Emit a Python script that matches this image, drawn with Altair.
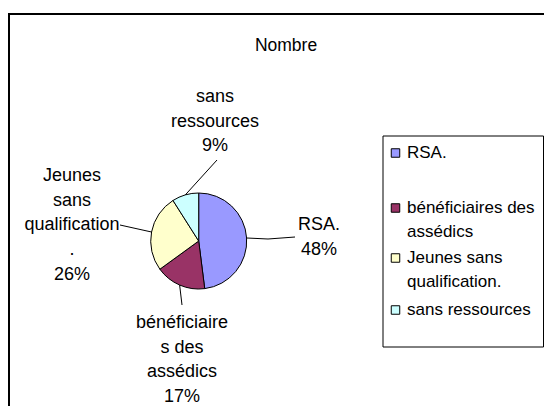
import math
import altair as alt
import pandas as pd

# ---- data ----
categories = ["RSA.", "bénéficiaires des assédics", "Jeunes sans qualification.", "sans ressources"]
values = [48, 17, 26, 9]
colors = ["#9999FF", "#993366", "#FFFFCC", "#CCFFFF"]
slice_labels = ["RSA.", "bénéficiaire\ns des\nassédics", "Jeunes\nsans\nqualification\n.", "sans\nressources"]
legend_labels = ["RSA.", "bénéficiaires des\nassédics", "Jeunes sans\nqualification.", "sans ressources"]
title_text = "Nombre"

# ---- layout (pixels inside the view) ----
W, H = 536, 398
CX, CY, R = 190.7, 233, 48
FONT = "Liberation Sans"
FS = 18
LFS = 17
label_pos = [(311, 217), (174, 315), (64, 168), (207, 89)]  # first-line centres
leader_tail = [[(260, 231), (287, 229)], [(174, 297)], [(112, 217)], [(209, 152)]]
legend_box = (375, 128, 535.5, 339)
legend_rows = [145, 200, 250, 302]
legend_sq_x = 387.5
legend_txt_x = 399

total = sum(values)
df = pd.DataFrame({"category": categories, "value": values, "idx": range(len(values))})
cum = df["value"].cumsum()
mid = (cum - df["value"] / 2) / total * 2 * math.pi
pct = [f"{round(v / total * 100)}%" for v in values]

color_scale = alt.Scale(domain=categories, range=colors)
XP = lambda f: alt.X(f, scale=None, axis=None)
YP = lambda f: alt.Y(f, scale=None, axis=None)

one = pd.DataFrame({"a": [0]})

border = alt.Chart(one).mark_rect(fill="white", stroke="black", strokeWidth=2).encode(
    x=alt.value(1), y=alt.value(6), x2=alt.value(900), y2=alt.value(900)
)

pie = alt.Chart(df).mark_arc(radius=R, stroke="black", strokeWidth=1).encode(
    theta=alt.Theta("value:Q", stack=True),
    color=alt.Color("category:N", scale=color_scale, legend=None),
    order=alt.Order("idx:Q"),
    x=alt.value(CX),
    y=alt.value(CY),
)

# leader lines
rows = []
for i, c in enumerate(categories):
    pts = [(CX + R * math.sin(mid[i]), CY - R * math.cos(mid[i]))] + leader_tail[i]
    for k, (px, py) in enumerate(pts):
        rows.append({"category": c, "k": k, "px": px, "py": py})
lead_df = pd.DataFrame(rows)
leaders = alt.Chart(lead_df).mark_line(color="black", strokeWidth=1).encode(
    x=XP("px:Q"), y=YP("py:Q"), detail="category:N", order="k:Q"
)

lab_df = pd.DataFrame({
    "text": [slice_labels[i] + "\n" + pct[i] for i in range(len(categories))],
    "px": [p[0] for p in label_pos],
    "py": [p[1] for p in label_pos],
})
labels = alt.Chart(lab_df).mark_text(
    font=FONT, fontSize=FS, lineBreak="\n", lineHeight=24.7, align="center", baseline="middle", color="black"
).encode(x=XP("px:Q"), y=YP("py:Q"), text="text:N")

lbox = alt.Chart(one).mark_rect(fill="white", stroke="black", strokeWidth=1).encode(
    x=alt.value(legend_box[0]), y=alt.value(legend_box[1]),
    x2=alt.value(legend_box[2]), y2=alt.value(legend_box[3]),
)

leg_df = pd.DataFrame({
    "category": categories,
    "text": legend_labels,
    "py": legend_rows,
    "sx": [legend_sq_x] * 4,
    "tx": [legend_txt_x] * 4,
})
lsq = alt.Chart(leg_df).mark_square(size=72, stroke="black", strokeWidth=1, opacity=1).encode(
    x=XP("sx:Q"), y=YP("py:Q"), color=alt.Color("category:N", scale=color_scale, legend=None)
)
ltxt = alt.Chart(leg_df).mark_text(
    font=FONT, fontSize=LFS, lineBreak="\n", lineHeight=24, align="left", baseline="middle", color="black"
).encode(x=XP("tx:Q"), y=YP("py:Q"), text="text:N")

title = alt.Chart(pd.DataFrame({"t": [title_text]})).mark_text(
    font=FONT, fontSize=17.5, align="center", baseline="middle", color="black"
).encode(x=alt.value(278), y=alt.value(38), text="t:N")

chart = alt.layer(border, pie, leaders, labels, lbox, lsq, ltxt, title).properties(
    width=W, height=H, autosize=alt.AutoSizeParams(type="none"), padding=0
).configure_view(stroke=None)

chart.save("out.html", embed_options={"renderer": "svg", "actions": False})
